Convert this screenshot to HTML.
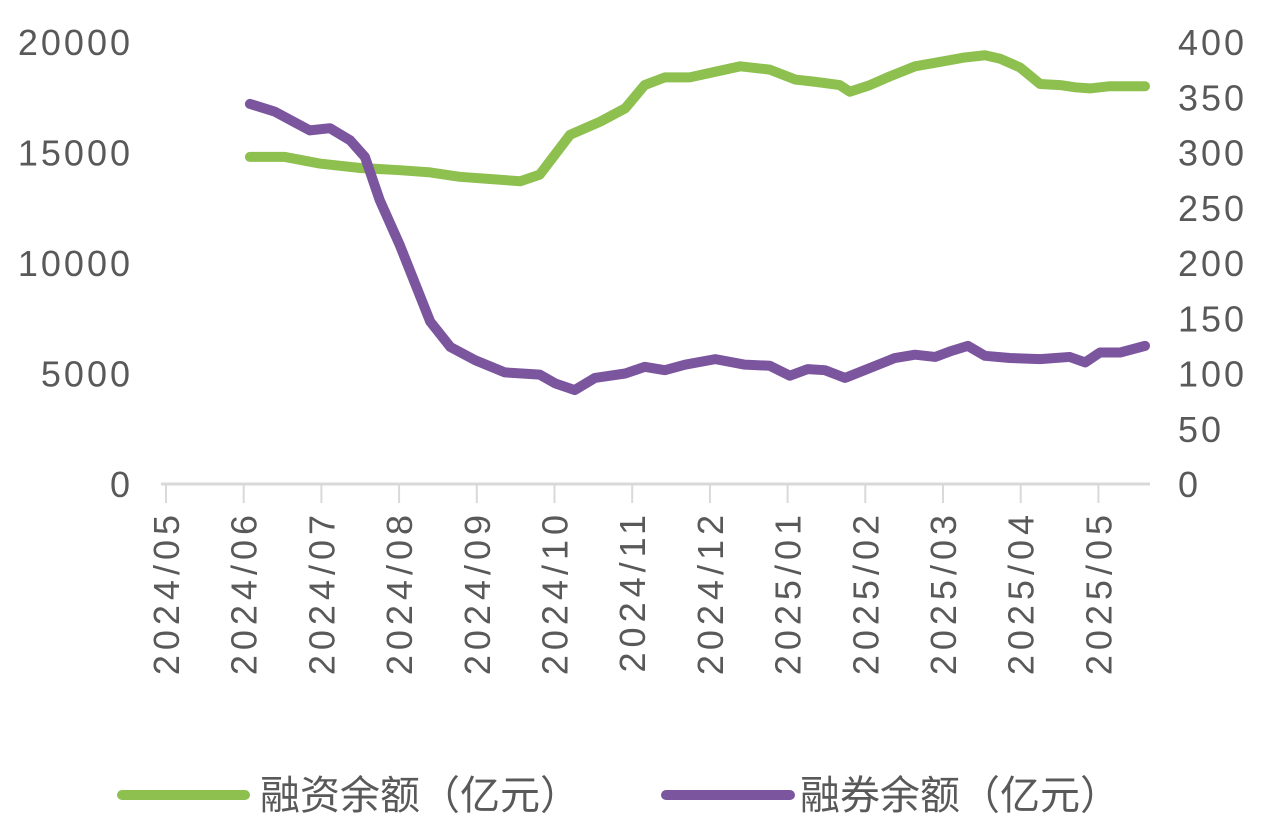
<!DOCTYPE html>
<html><head><meta charset="utf-8"><style>
body{margin:0;background:#fff;}
svg text{font-family:"Liberation Sans","Noto Sans CJK SC",sans-serif;fill:#595959;}
</style></head><body>
<svg width="1263" height="834" id="c">
<line x1="161" y1="484" x2="1150" y2="484" stroke="#d9d9d9" stroke-width="3"/>
<g id="ticks"></g><g id="lines"></g>
<g>
<line x1="122" y1="795" x2="245" y2="795" stroke="#8dc04f" stroke-width="10" stroke-linecap="round"/>
<text x="260" y="809" font-size="40">融资余额（亿元）</text>
<line x1="666" y1="795" x2="790" y2="795" stroke="#7b559e" stroke-width="10" stroke-linecap="round"/>
<text x="800" y="809" font-size="40">融券余额（亿元）</text>
</g>
</svg>
<script>
const monthLabels=["2024/05","2024/06","2024/07","2024/08","2024/09","2024/10","2024/11","2024/12","2025/01","2025/02","2025/03","2025/04","2025/05"];
const leftTicks=[0,5000,10000,15000,20000];
const rightTicks=[0,50,100,150,200,250,300,350,400];
const finMonths=[1.08,1.53,1.98,2.50,3.01,3.40,3.78,4.17,4.56,4.81,5.20,5.59,5.91,6.16,6.42,6.74,7.00,7.39,7.77,8.10,8.35,8.67,8.80,9.06,9.32,9.64,9.96,10.28,10.54,10.73,10.99,11.25,11.51,11.70,11.89,12.15,12.60];
const finValues=[14800,14800,14500,14300,14200,14100,13900,13800,13700,14000,15800,16400,17000,18050,18400,18400,18600,18900,18750,18300,18200,18050,17750,18050,18450,18900,19100,19300,19400,19250,18850,18100,18050,17950,17900,18000,18000];
const secMonths=[1.08,1.40,1.85,2.11,2.37,2.56,2.75,3.01,3.40,3.66,3.98,4.36,4.81,5.01,5.26,5.52,5.91,6.16,6.42,6.68,7.07,7.45,7.77,8.03,8.26,8.48,8.74,9.06,9.38,9.64,9.90,10.09,10.32,10.54,10.86,11.25,11.63,11.83,12.02,12.28,12.60];
const secValues=[344,337,320,322,311,296,257,216,147,124,112,101,99,91,85,96,100,106,103,108,113,108,107,98,104,103,96,105,114,117,115,120,125,116,114,113,115,110,119,119,125];
const NS="http://www.w3.org/2000/svg";
const x=m=>166+m*77.7;
const yL=v=>484-v*442/20000;
const yR=v=>484-v*442/400;
const tg=document.getElementById('ticks'),lg=document.getElementById('lines');
function mk(t,a,p){const e=document.createElementNS(NS,t);for(const k in a)e.setAttribute(k,a[k]);p.appendChild(e);return e;}
monthLabels.forEach((l,i)=>{
 const tk=mk('line',{x1:x(i),y1:484,x2:x(i),y2:503,stroke:'#d9d9d9','stroke-width':2},tg);
 
 
 const t=mk('text',{x:0,y:0,'font-size':36,'letter-spacing':5,'text-anchor':'end',transform:`translate(${x(i)+13},510) rotate(-90)`},tg);
 t.textContent=l;
 
 
});
leftTicks.forEach(v=>{
 const t=mk('text',{x:133,y:yL(v)+13,'font-size':36,'letter-spacing':3,'text-anchor':'end'},tg);
 t.textContent=v;
 
 
});
rightTicks.forEach(v=>{
 const t=mk('text',{x:1178,y:yR(v)+13,'font-size':36,'letter-spacing':3},tg);
 t.textContent=v;
 
 
});
const p1=mk('polyline',{points:finMonths.map((m,i)=>x(m)+','+yL(finValues[i])).join(' '),fill:'none',stroke:'#8dc04f','stroke-width':10,'stroke-linejoin':'round','stroke-linecap':'round'},lg);


const p2=mk('polyline',{points:secMonths.map((m,i)=>x(m)+','+yR(secValues[i])).join(' '),fill:'none',stroke:'#7b559e','stroke-width':10,'stroke-linejoin':'round','stroke-linecap':'round'},lg);


</script>
</body></html>
